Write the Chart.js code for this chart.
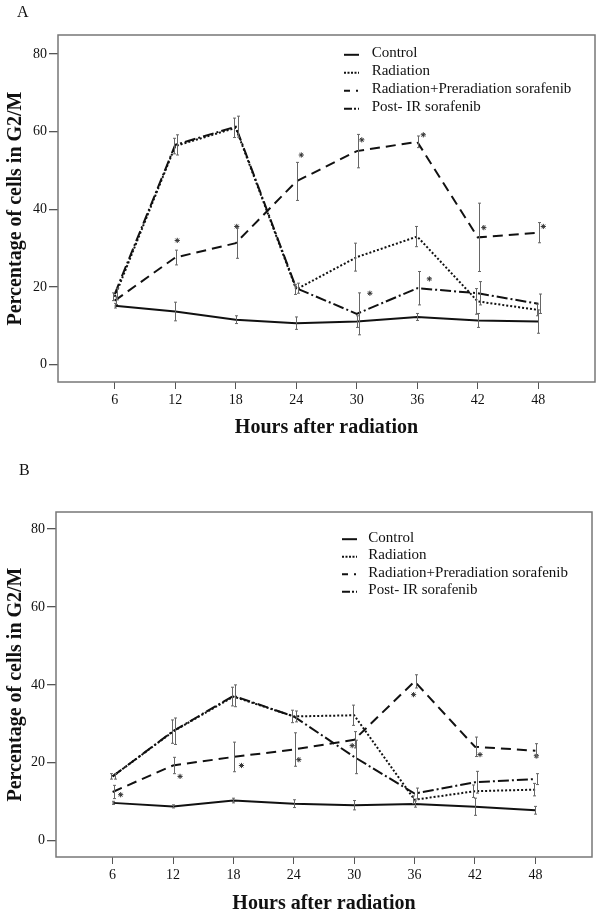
<!DOCTYPE html>
<html><head><meta charset="utf-8">
<script src="https://cdn.jsdelivr.net/npm/chart.js@4.4.1/dist/chart.umd.min.js"></script>
<style>
html,body{margin:0;padding:0;background:#fff;}
#wrap{position:relative;width:600px;height:918px;overflow:hidden;background:#fff;}
.panel{position:absolute;left:0;width:600px;}
.lab{position:absolute;font-family:"Liberation Serif","Times New Roman",serif;font-size:16px;line-height:16px;color:#111;}
</style></head><body>
<div id="wrap">
<div class="panel" style="top:0;height:440px"><canvas id="cA" width="600" height="440"></canvas></div>
<div class="panel" style="top:440px;height:478px"><canvas id="cB" width="600" height="478"></canvas></div>
<div class="lab" style="left:17px;top:4px">A</div>
<div class="lab" style="left:19px;top:462px">B</div>
</div>
<script>
// ---- data ----
const hours = [6, 12, 18, 24, 30, 36, 42, 48];
const yTicks = [0, 20, 40, 60, 80];
const seriesNames = ['Control', 'Radiation', 'Radiation+Preradiation sorafenib', 'Post- IR sorafenib'];

// Panel A
const ctrlA = [15.2, 13.7, 11.6, 10.7, 11.1, 12.3, 11.4, 11.1];
const ctrlAErr = [0.6, 2.4, 1.0, 1.6, 1.5, 0.9, 1.8, 3.0];
const radA = [17.5, 56.3, 61.0, 19.4, 27.7, 33.0, 16.3, 14.1];
const radAErr = [1.0, 2.0, 2.5, 1.3, 3.6, 2.6, 3.3, 1.5];
const preA = [16.5, 27.6, 31.3, 47.2, 55.0, 57.4, 32.8, 34.0];
const preAErr = [1.0, 1.9, 3.9, 4.9, 4.3, 1.5, 8.8, 2.6];
const postA = [18.2, 56.6, 61.3, 19.7, 13.1, 19.7, 18.4, 15.7];
const postAErr = [1.5, 2.6, 2.7, 1.3, 5.4, 4.3, 3.0, 2.5];
const starAx = [12.2, 18.1, 24.5, 30.5, 36.6, 42.6, 48.5, 31.3, 37.2];
const starAy = [32.0, 35.6, 54.0, 57.9, 59.2, 35.3, 35.6, 18.4, 22.1];

// Panel B
const ctrlB = [9.7, 8.8, 10.3, 9.5, 9.1, 9.4, 8.7, 7.8];
const ctrlBErr = [0.4, 0.4, 0.6, 1.0, 1.2, 0.8, 2.2, 1.0];
const radB = [16.5, 28.0, 37.0, 31.9, 32.2, 10.5, 12.7, 13.1];
const radBErr = [0.7, 3.0, 2.4, 1.6, 2.6, 1.0, 1.6, 1.6];
const preB = [12.5, 19.3, 21.5, 23.4, 25.9, 40.9, 24.1, 23.1];
const preBErr = [1.7, 2.1, 3.8, 4.3, 2.1, 1.7, 2.5, 1.8];
const postB = [16.5, 28.1, 37.2, 31.9, 21.5, 12.1, 15.0, 15.8];
const postBErr = [0.7, 3.4, 2.8, 1.4, 4.3, 1.4, 2.8, 1.4];
const starBx = [6.8, 12.7, 18.8, 24.5, 29.8, 35.9, 42.5, 48.1];
const starBy = [11.8, 16.5, 19.3, 20.8, 24.4, 37.5, 22.1, 21.8];

// ---- styles ----
const FONT = '"Liberation Serif", "Times New Roman", serif';
const INK = '#111';
const styles = [
  { borderDash: [], keyDash: [], errOffset: 0 },
  { borderDash: [2, 2], keyDash: [2, 1.5], errOffset: -1.5 },
  { borderDash: [10, 6], keyDash: [6, 6, 2, 10], errOffset: 1 },
  { borderDash: [11, 3, 2, 3], keyDash: [8, 2, 2, 2, 2, 20], errOffset: 2 }
];

function pts(xs, ys) { return xs.map((x, i) => ({ x: x, y: ys[i] })); }

function buildDatasets(vals, errs, sx, sy) {
  const ds = vals.map((v, k) => ({
    label: seriesNames[k],
    data: pts(hours, v),
    errors: errs[k],
    errOffset: styles[k].errOffset,
    keyDash: styles[k].keyDash,
    borderColor: INK,
    borderWidth: 2,
    borderDash: styles[k].borderDash,
    pointRadius: 0,
    tension: 0,
    fill: false
  }));
  ds.push({
    label: 'significance',
    isMark: true,
    data: pts(sx, sy),
    showLine: false,
    pointStyle: 'star',
    pointRadius: 2.6,
    borderColor: '#333',
    borderWidth: 1,
    backgroundColor: '#333'
  });
  return ds;
}

const boxPlugin = {
  id: 'frame',
  beforeDatasetsDraw(chart) {
    const a = chart.chartArea, ctx = chart.ctx;
    ctx.save();
    ctx.strokeStyle = '#777';
    ctx.lineWidth = 1.5;
    ctx.strokeRect(a.left, a.top, a.right - a.left, a.bottom - a.top);
    ctx.restore();
  }
};

const errPlugin = {
  id: 'errbars',
  afterDatasetsDraw(chart) {
    const ctx = chart.ctx, xs = chart.scales.x, ys = chart.scales.y;
    ctx.save();
    ctx.strokeStyle = '#666';
    ctx.lineWidth = 1;
    chart.data.datasets.forEach(ds => {
      if (!ds.errors) return;
      ds.data.forEach((p, j) => {
        const e = ds.errors[j];
        const x = Math.round(xs.getPixelForValue(p.x) + ds.errOffset) + 0.5;
        const y1 = ys.getPixelForValue(p.y + e);
        const y2 = ys.getPixelForValue(p.y - e);
        ctx.beginPath();
        ctx.moveTo(x, y1); ctx.lineTo(x, y2);
        ctx.moveTo(x - 1.5, y1); ctx.lineTo(x + 1.5, y1);
        ctx.moveTo(x - 1.5, y2); ctx.lineTo(x + 1.5, y2);
        ctx.stroke();
      });
    });
    ctx.restore();
  }
};

const keyPlugin = {
  id: 'seriesKey',
  afterDraw(chart, args, o) {
    const ctx = chart.ctx;
    ctx.save();
    ctx.font = o.size + 'px ' + FONT;
    ctx.fillStyle = INK;
    ctx.textBaseline = 'middle';
    let r = 0;
    chart.data.datasets.forEach(ds => {
      if (ds.isMark) return;
      const y = o.y + r * o.dy;
      ctx.strokeStyle = INK;
      ctx.lineWidth = 2;
      ctx.setLineDash(ds.keyDash || []);
      ctx.beginPath();
      ctx.moveTo(o.sx, y + 1.5); ctx.lineTo(o.sx + o.sw, y + 1.5);
      ctx.stroke();
      ctx.setLineDash([]);
      ctx.fillText(ds.label, o.tx, y);
      r++;
    });
    ctx.restore();
  }
};

function makeChart(id, datasets, cfg) {
  return new Chart(document.getElementById(id), {
    type: 'line',
    data: { datasets: datasets },
    plugins: [boxPlugin, errPlugin, keyPlugin],
    options: {
      responsive: false,
      animation: false,
      layout: { padding: { top: cfg.padTop, right: cfg.padRight, left: 0, bottom: 0 } },
      plugins: {
        legend: { display: false },
        tooltip: { enabled: false },
        seriesKey: cfg.key
      },
      scales: {
        x: {
          type: 'linear',
          min: 0.375, max: 53.625,
          afterBuildTicks: s => { s.ticks = hours.map(v => ({ value: v })); },
          afterFit: s => { s.height = cfg.xHeight; },
          grid: { drawOnChartArea: false, drawTicks: true, tickLength: 7, color: '#555', lineWidth: 1 },
          border: { display: false },
          ticks: { font: { family: FONT, size: 14 }, color: INK, padding: 3, maxRotation: 0, autoSkip: false },
          title: { display: true, text: 'Hours after radiation', color: INK,
                   font: { family: FONT, size: 20, weight: 'bold' }, padding: { top: 0, bottom: cfg.xTitlePad } }
        },
        y: {
          type: 'linear',
          min: cfg.yMin, max: cfg.yMax,
          afterBuildTicks: s => { s.ticks = yTicks.map(v => ({ value: v })); },
          afterFit: s => { s.width = cfg.yWidth; },
          grid: { drawOnChartArea: false, drawTicks: true, tickLength: 9, color: '#555', lineWidth: 1.3 },
          border: { display: false },
          ticks: { font: { family: FONT, size: 14 }, color: INK, padding: 2 },
          title: { display: true, text: 'Percentage of cells in G2/M', color: INK,
                   font: { family: FONT, size: 20, weight: 'bold' }, padding: { top: 3.5, bottom: 0 } }
        }
      }
    }
  });
}

makeChart('cA',
  buildDatasets([ctrlA, radA, preA, postA], [ctrlAErr, radAErr, preAErr, postAErr], starAx, starAy),
  { padTop: 35, padRight: 5, xHeight: 58, yWidth: 58, yMin: -4.45, yMax: 84.9, xTitlePad: 0,
    key: { sx: 344, sw: 15, tx: 371.7, y: 53.3, dy: 18, size: 15 } });

makeChart('cB',
  buildDatasets([ctrlB, radB, preB, postB], [ctrlBErr, radBErr, preBErr, postBErr], starBx, starBy),
  { padTop: 72, padRight: 8, xHeight: 61, yWidth: 56, yMin: -4.2, yMax: 84.4, xTitlePad: 2,
    key: { sx: 342, sw: 15, tx: 368.3, y: 97.7, dy: 17.5, size: 15 } });
</script>
</body></html>
